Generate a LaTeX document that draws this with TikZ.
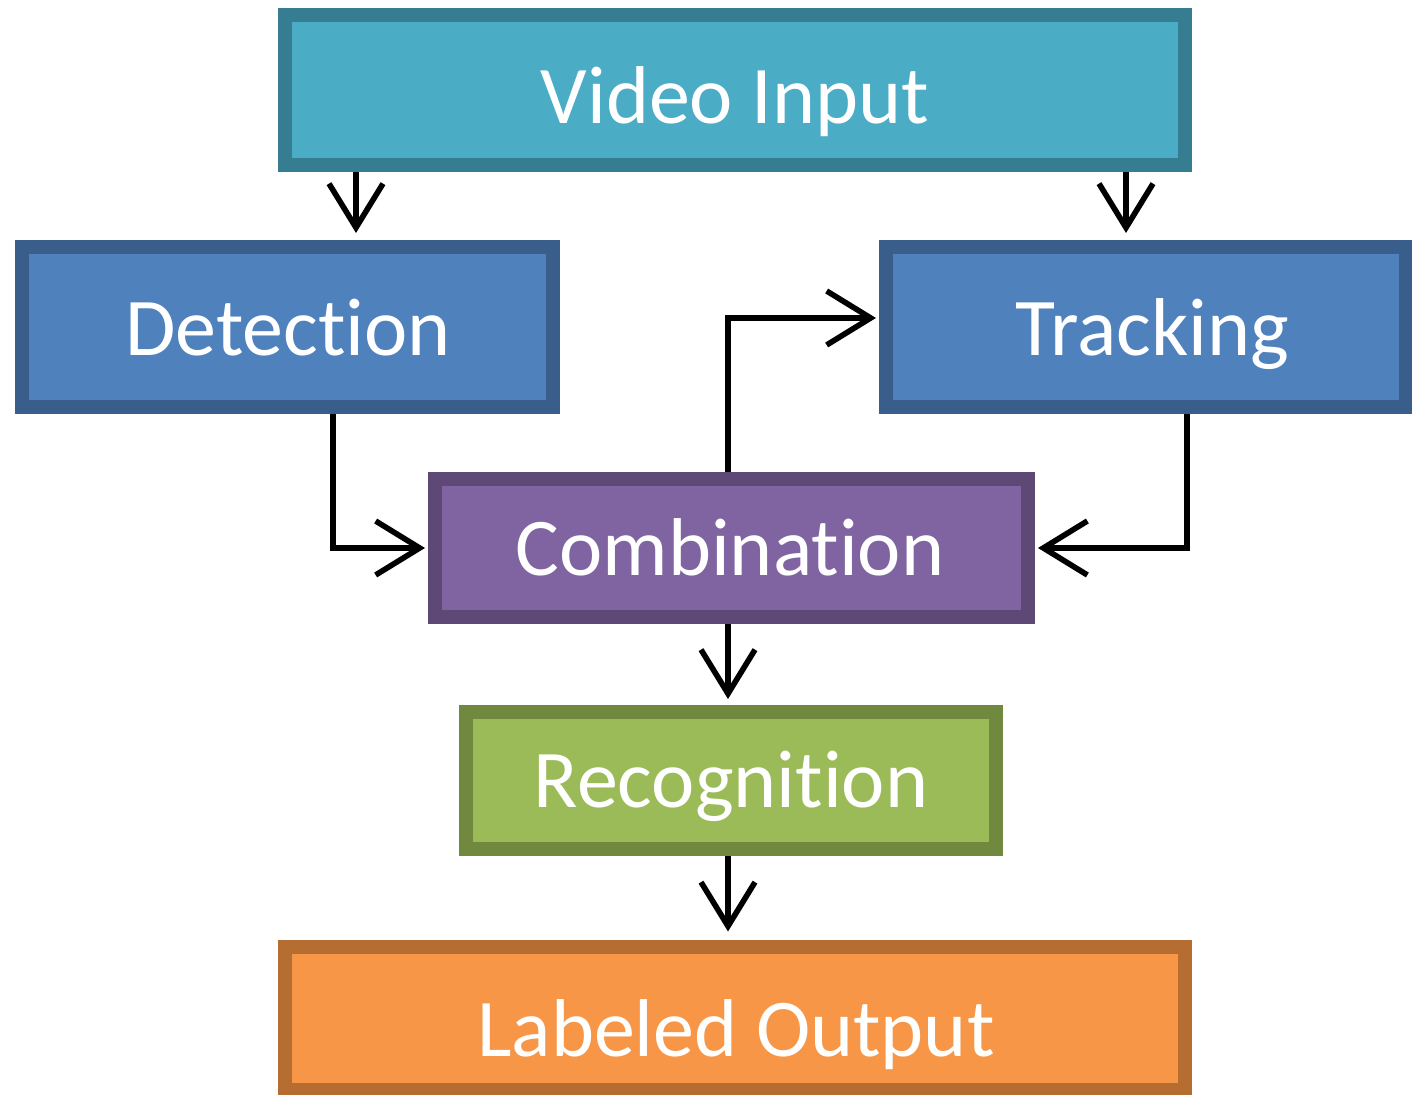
\documentclass[tikz,border=0pt]{standalone}
\usepackage{fontspec}
\setmainfont{Carlito}[Ligatures=NoCommon]
\usetikzlibrary{arrows.meta}
\definecolor{vidF}{HTML}{4BACC6}\definecolor{vidB}{HTML}{377D91}
\definecolor{detF}{HTML}{4F81BD}\definecolor{detB}{HTML}{3A5E8B}
\definecolor{comF}{HTML}{8064A2}\definecolor{comB}{HTML}{5E4876}
\definecolor{recF}{HTML}{9BBB59}\definecolor{recB}{HTML}{71893F}
\definecolor{outF}{HTML}{F79646}\definecolor{outB}{HTML}{B66D31}
\tikzset{
  box/.style={draw=#1B, fill=#1F, line width=7pt, rectangle, inner sep=0pt},
  lbl/.style={text=white, font=\fontsize{41pt}{41pt}\selectfont, inner sep=0pt, text height=26pt, text depth=0pt, anchor=center},
  arr/.style={line width=2.8pt, -{Straight Barb[length=22pt,width=27pt]}, shorten >=1.5pt}
}
\begin{document}
\begin{tikzpicture}[x=0.5pt,y=-0.5pt]
\useasboundingbox (0,0) rectangle (1412,1095);
% boxes: outer dims minus line width (14px)
\node[box=vid, minimum width=450pt, minimum height=75pt] (vid) at (735,90) {};
\node[box=det, minimum width=265.5pt, minimum height=80pt] (det) at (287.5,327) {};
\node[box=det, minimum width=260pt, minimum height=80pt] (trk) at (1146,327) {};
\node[box=com, minimum width=296.5pt, minimum height=69pt] (com) at (731.5,548) {};
\node[box=rec, minimum width=265pt, minimum height=68.5pt] (rec) at (731,780.5) {};
\node[box=out, minimum width=450pt, minimum height=71.5pt] (out) at (735,1018) {};
% labels
\node[lbl] (tvid) at (735,98) {Video Input};
\node[lbl] (tdet) at (288,330) {Detection};
\node[lbl] (ttrk) at (1152,330) {Tracking};
\node[lbl] (tcom) at (730,549) {Combination};
\node[lbl] (trec) at (731,781) {Recognition};
\node[lbl] (tout) at (736,1030) {Labeled Output};
% columns
\coordinate (c356) at (356,0);
\coordinate (c1126) at (1126,0);
\coordinate (c333) at (333,0);
\coordinate (c1187) at (1187,0);
\coordinate (c728) at (728,0);
\coordinate (r318) at (0,318);
% connectors
\draw[arr, shorten >=3.5pt] (vid.south -| c356) -- (det.north -| c356);
\draw[arr, shorten >=3.5pt] (vid.south -| c1126) -- (trk.north -| c1126);
\draw[arr] (det.south -| c333) |- (com.west);
\draw[arr] (trk.south -| c1187) |- (com.east);
\draw[arr] (com.north -| c728) |- (trk.west |- r318);
\draw[arr, shorten >=3pt] (com.south -| c728) -- (rec.north -| c728);
\draw[arr, shorten >=4pt] (rec.south -| c728) -- (out.north -| c728);
\end{tikzpicture}
\end{document}
